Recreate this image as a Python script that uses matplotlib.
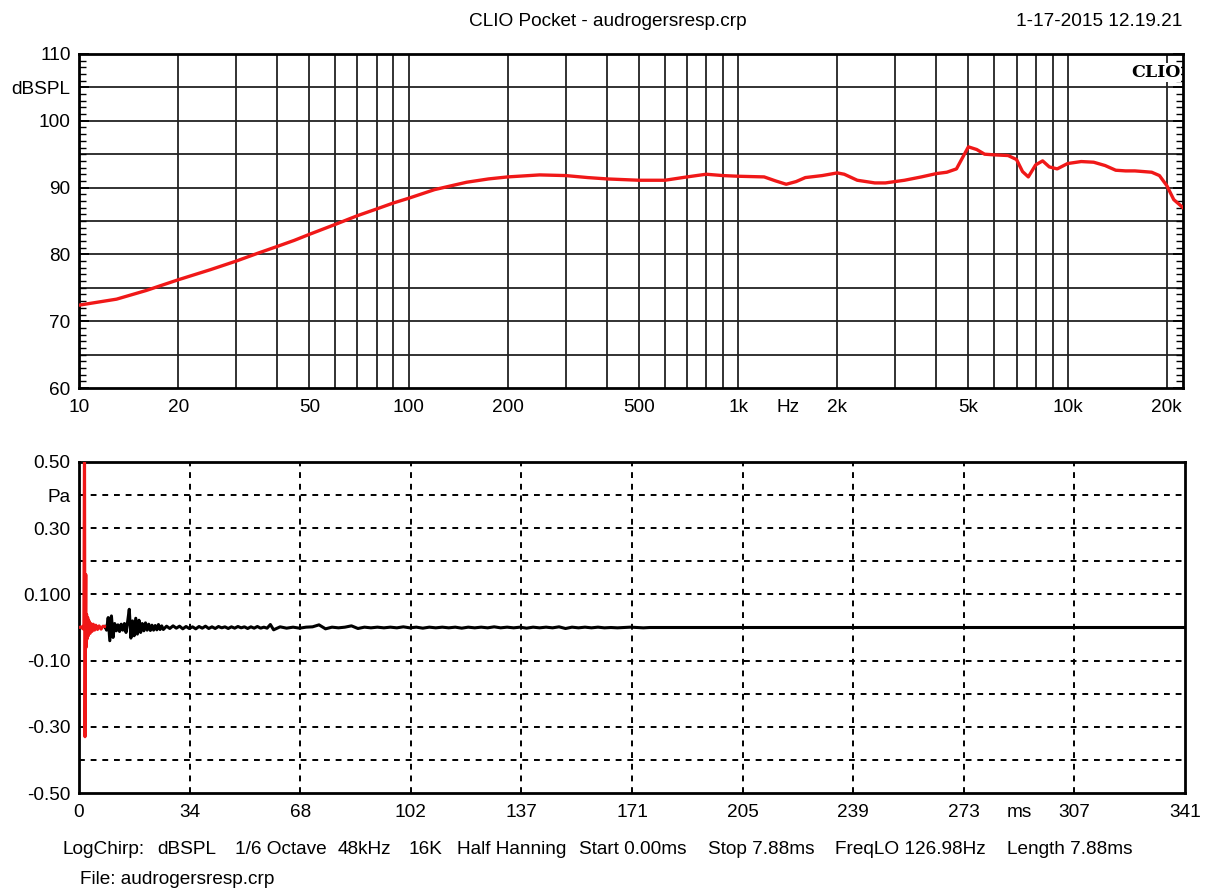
import numpy as np
import matplotlib
matplotlib.use('Agg')
import matplotlib.pyplot as plt
from matplotlib.ticker import MultipleLocator

plt.rcParams['font.family'] = ['Liberation Sans', 'DejaVu Sans']

# frequency response (Hz, dBSPL)
freq = [10, 13, 16, 20, 25, 30, 35, 40, 45, 50, 60, 70, 80, 90, 100, 120, 150, 175, 200,
        250, 300, 350, 400, 500, 600, 700, 800, 900, 1000, 1200, 1300, 1400, 1500, 1600,
        1800, 2000, 2100, 2300, 2600, 2800, 3200, 3600, 4000, 4300, 4600, 5000, 5300,
        5600, 6000, 6600, 7000, 7300, 7600, 8000, 8400, 8800, 9300, 10000, 11000, 12000,
        13000, 14000, 15000, 16000, 17000, 18000, 19000, 20000, 21000, 22400]
spl = [72.4, 73.3, 74.6, 76.2, 77.7, 79.0, 80.2, 81.2, 82.1, 83.0, 84.5, 85.8, 86.8, 87.7,
       88.4, 89.7, 90.8, 91.3, 91.6, 91.9, 91.8, 91.5, 91.3, 91.1, 91.1, 91.6, 92.0, 91.8,
       91.7, 91.6, 91.0, 90.5, 90.9, 91.5, 91.8, 92.2, 92.0, 91.1, 90.7, 90.7, 91.1, 91.6,
       92.1, 92.3, 92.8, 96.1, 95.7, 95.0, 94.9, 94.8, 94.2, 92.4, 91.6, 93.4, 94.0, 93.1,
       92.8, 93.6, 93.9, 93.8, 93.3, 92.6, 92.5, 92.5, 92.4, 92.3, 91.8, 90.3, 88.2, 87.0]

# impulse response, windowed part (red)
imp_red_t = [0, 0.8, 1.2, 1.5, 1.7, 1.85, 2.0, 2.1, 2.2, 2.35, 2.5, 2.7, 2.9,
             3.1, 3.4, 3.7, 4.0, 4.4, 4.8, 5.2, 5.7, 6.2, 6.8, 7.4, 7.88]
imp_red_v = [0, 0.002, -0.004, 0.01, 0.62, -0.33, 0.05, 0.16, -0.06, 0.04, -0.035, 0.03,
             -0.025, 0.02, -0.018, 0.012, -0.012, 0.01, -0.008, 0.007, -0.006, 0.005,
             -0.005, 0.004, 0.003]

# impulse response, rest (black): three blocks with different sample spacing
imp_a = [0.004, -0.008, 0.03, -0.04, 0.035, -0.03, 0.012, -0.01, 0.008, -0.012, 0.01,
         -0.008, 0.012, -0.015, 0.018, 0.055, -0.032, 0.02, -0.025, 0.028, -0.02, 0.022,
         -0.015, 0.012, -0.01, 0.014, -0.008, 0.01, -0.009, 0.007, -0.008, 0.006, -0.007,
         0.009, -0.006, 0.005, -0.006]
imp_b = [0.004, -0.003, 0.005, -0.002, 0.004, -0.004, 0.003, -0.003, 0.002, -0.004, 0.003,
         -0.002, 0.004, -0.003, 0.002, -0.003, 0.003, -0.001, 0.002, -0.003, 0.002, -0.002,
         0.003, -0.001, 0.002, -0.003, 0.002, -0.002, 0.003, -0.002, 0.001, -0.002, 0.009,
         -0.007]
imp_c = [0.002, -0.002, 0.001, -0.002, 0.001, 0.002, 0.008, -0.004, 0.001, -0.001, 0.001,
         0.005, -0.003, 0.001, -0.001, 0.001, -0.001, 0.001, -0.001, 0.002, -0.001, 0.001,
         -0.002, 0.001, -0.001, 0.001, -0.001, 0.001, -0.002, 0.001, -0.001, 0.001, -0.001,
         0.002, -0.001, 0.001, -0.001, 0.001, -0.002, 0.001, -0.001, 0.001, -0.001, 0.002,
         -0.003, 0.001, -0.001, 0.001, -0.001, 0.001, -0.001, 0.0, -0.001, 0.0, 0.001,
         0.0, -0.001, 0.0, 0.0, 0.0, 0.0, 0.0, 0.0, 0.0, 0.0]

imp_t = np.concatenate([[7.88], 8.0 + 0.5 * np.arange(len(imp_a)),
                        27.0 + 1.0 * np.arange(len(imp_b)),
                        62.0 + 2.0 * np.arange(len(imp_c)), [341.0]])
imp_v = np.concatenate([[imp_red_v[-1]], imp_a, imp_b, imp_c, [0.0]])

time_ticks = [341 * k / 10 for k in range(11)]
time_labels = ['0', '34', '68', '102', '137', '171', '205', '239', '273', '307', '341']

RED = '#f01818'
FS = 13.7

fig = plt.figure(figsize=(12.09, 8.91), dpi=100)
W, H = 1209, 891


def axrect(x0, y0, x1, y1):
    return [x0 / W, 1 - y1 / H, (x1 - x0) / W, (y1 - y0) / H]


# ---------------- frequency response ----------------
ax = fig.add_axes(axrect(79, 54, 1183, 388))
ax.set_xscale('log')
ax.set_xlim(10, 22400)
ax.set_ylim(60, 110)

for dec in [10, 100, 1000, 10000]:
    for m in range(1, 10):
        f = dec * m
        if 10 < f <= 20000:
            ax.axvline(f, color='#222222', lw=1.3, zorder=1)
for lvl in range(65, 110, 5):
    ax.axhline(lvl, color='#222222', lw=1.3, zorder=1)

ax.plot(freq, spl, color=RED, lw=2.4, zorder=3)

ax.xaxis.set_minor_locator(matplotlib.ticker.NullLocator())
ax.set_xticks([10, 20, 50, 100, 200, 500, 1000, 1420, 2000, 5000, 10000, 20000])
ax.set_xticklabels(['10', '20', '50', '100', '200', '500', '1k', 'Hz', '2k', '5k', '10k', '20k'])
ax.set_yticks([60, 70, 80, 90, 100, 105, 110])
ax.set_yticklabels(['60', '70', '80', '90', '100', 'dBSPL', '110'])
ax.yaxis.set_minor_locator(MultipleLocator(1))
ax.tick_params(axis='x', length=0, pad=8, labelsize=FS)
ax.tick_params(axis='y', which='major', direction='in', length=7, width=1.3,
               left=True, right=True, labelsize=FS, pad=6)
ax.tick_params(axis='y', which='minor', direction='in', length=5, width=1.0,
               left=True, right=True)
for s in ax.spines.values():
    s.set_linewidth(2)

ax.text(0.998, 0.97, 'CLIO', transform=ax.transAxes, ha='right', va='top',
        family='DejaVu Serif', fontweight='bold', fontsize=12.5, zorder=5,
        bbox=dict(facecolor='white', edgecolor='none', pad=0.5))

# ---------------- impulse response ----------------
bx = fig.add_axes(axrect(79, 462, 1185, 793))
bx.set_xlim(0, 341)
bx.set_ylim(-0.5, 0.5)

for t in time_ticks[1:-1]:
    bx.axvline(t, color='black', lw=1.4, ls=(0, (3, 3)), zorder=1)
for lvl in [-0.4, -0.3, -0.2, -0.1, 0.1, 0.2, 0.3, 0.4]:
    bx.axhline(lvl, color='black', lw=1.4, ls=(0, (3, 3)), zorder=1)

bx.plot(imp_t, imp_v, color='black', lw=2.2, zorder=3)
bx.plot(imp_red_t, imp_red_v, color=RED, lw=2.2, zorder=4)

bx.set_xticks(time_ticks)
bx.set_xticklabels(time_labels)
bx.set_yticks([-0.5, -0.3, -0.1, 0.1, 0.3, 0.4, 0.5])
bx.set_yticklabels(['-0.50', '-0.30', '-0.10', '0.100', '0.30', 'Pa', '0.50'])
bx.tick_params(axis='both', length=0, labelsize=FS)
bx.tick_params(axis='x', pad=8)
bx.tick_params(axis='y', pad=6)
for s in bx.spines.values():
    s.set_linewidth(2)
bx.annotate('ms', xy=(290, -0.5), xytext=(0, -8), textcoords='offset points',
            ha='center', va='top', fontsize=FS)

# ---------------- header / footer texts ----------------
fig.text(608 / W, 1 - 22 / H, 'CLIO Pocket - audrogersresp.crp', ha='center', va='center', fontsize=FS)
fig.text(1182 / W, 1 - 22 / H, '1-17-2015 12.19.21', ha='right', va='center', fontsize=FS)

footer = [(63, 'LogChirp:'), (157, 'dBSPL'), (235, '1/6 Octave'), (338, '48kHz'),
          (408, '16K'), (457, 'Half Hanning'), (579, 'Start 0.00ms'), (708, 'Stop 7.88ms'),
          (835, 'FreqLO 126.98Hz'), (1007, 'Length 7.88ms')]
for x, s in footer:
    fig.text(x / W, 1 - 849 / H, s, ha='left', va='center', fontsize=FS)
fig.text(80 / W, 1 - 880 / H, 'File: audrogersresp.crp', ha='left', va='center', fontsize=FS)

fig.savefig('out.png', dpi=100, facecolor='white')
